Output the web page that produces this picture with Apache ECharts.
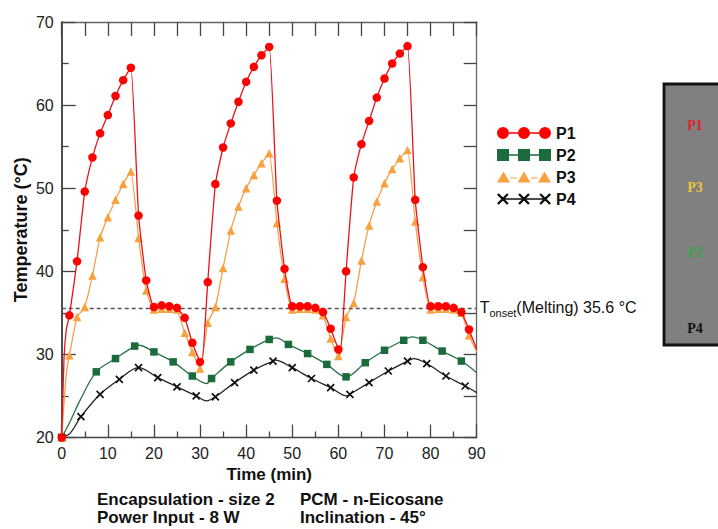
<!DOCTYPE html>
<html><head><meta charset="utf-8">
<script src="https://cdn.jsdelivr.net/npm/echarts@6/dist/echarts.min.js"></script>
<style>html,body{margin:0;padding:0;background:#fff}#c{width:718px;height:529px}</style>
</head><body><div id="c"></div>
<script>
// ---- data ----
const tFast = [0, 1.67, 3.33, 5, 6.67, 8.33, 10, 11.67, 13.33, 15, 16.67, 18.33, 20, 21.67, 23.33, 25, 26.67, 28.33, 30,
  31.67, 33.33, 35, 36.67, 38.33, 40, 41.67, 43.33, 45, 46.67, 48.33, 50, 51.67, 53.33, 55, 56.67, 58.33, 60,
  61.67, 63.33, 65, 66.67, 68.33, 70, 71.67, 73.33, 75, 76.67, 78.33, 80, 81.67, 83.33, 85, 86.67, 88.33];
const p1 = [20, 34.7, 41.2, 49.6, 53.7, 56.6, 58.8, 61.1, 63.0, 64.5, 46.7, 38.9, 35.7, 35.9, 35.8, 35.6, 34.4, 31.4, 29.1,
  38.7, 50.5, 54.9, 57.8, 60.4, 62.8, 64.6, 66.0, 67.0, 48.5, 40.3, 35.8, 35.8, 35.8, 35.6, 35.1, 33.1, 30.6,
  40.0, 51.3, 55.3, 58.1, 60.9, 63.2, 65.0, 66.2, 67.1, 48.6, 40.5, 35.8, 35.8, 35.8, 35.6, 35.1, 33.0];
const p3 = [20, 29.9, 34.5, 35.7, 39.5, 44.1, 46.5, 48.6, 50.5, 52.0, 44.0, 37.7, 35.4, 35.5, 35.5, 35.4, 32.6, 30.3, 28.3,
  33.8, 35.7, 40.4, 44.9, 47.8, 50.0, 51.6, 53.0, 54.2, 45.8, 39.1, 35.4, 35.5, 35.5, 35.4, 34.7, 31.9, 29.8,
  34.5, 36.2, 41.3, 45.5, 48.4, 50.6, 52.3, 53.6, 54.6, 46.0, 39.3, 35.4, 35.5, 35.5, 35.4, 35.0, 32.3];
const tP2 = [0, 7.5, 11.67, 15.83, 20, 24.17, 28.33, 32.5, 36.67, 40.83, 45, 49.17, 53.33, 57.5, 61.67, 65.83, 70, 74.17, 78.33, 82.5, 86.67];
const p2 = [20, 27.9, 29.5, 31.0, 30.3, 29.1, 27.4, 27.1, 29.1, 30.6, 31.8, 31.2, 30.1, 28.8, 27.3, 29.0, 30.5, 31.7, 31.7, 30.4, 29.2];
const tP4 = [0, 4.17, 8.33, 12.5, 16.67, 20.83, 25, 29.17, 33.33, 37.5, 41.67, 45.83, 50, 54.17, 58.33, 62.5, 66.67, 70.83, 75, 79.17, 83.33, 87.5];
const p4 = [20, 22.5, 25.2, 27.0, 28.4, 27.2, 26.1, 25.0, 24.9, 26.6, 28.1, 29.2, 28.4, 27.1, 26.0, 25.2, 26.6, 28.0, 29.2, 28.9, 27.4, 26.2];
// extra points (no markers drawn there)
const p1Curve = [[0.5, 29.5], [1.0, 33.0], [30.4, 28.8], [60.4, 30.0], [90, 30.6]];
const p3Curve = [[0.7, 25.7], [1.2, 28.5], [90, 30.3]];
const p2Curve = [[1.8, 21.9], [4.0, 24.5], [16.7, 31.1], [31.4, 26.5], [46.6, 32.0], [76.0, 32.1], [90, 27.8]];
const p4Curve = [[1.8, 20.5], [31.4, 24.4], [46.3, 29.3], [61.9, 25.0], [76.3, 29.5], [90, 25.4]];
const tOnset = 35.6;
const seriesNames = ['P1', 'P2', 'P3', 'P4'];
const boxLabels = ['P1', 'P3', 'P2', 'P4'];
const captionLines = [['Encapsulation - size 2', 'PCM - n-Eicosane'], ['Power Input - 8 W', 'Inclination - 45°']];

// ---- build ----
const FF = '"Liberation Sans", Arial, Helvetica, sans-serif';
function pts(ts, vs) { return ts.map((t, i) => [t, vs[i]]); }
function curve(ts, vs, extra) { return pts(ts, vs).concat(extra).sort((a, b) => a[0] - b[0]); }

const colors = { P1: '#ff0000', P2: '#1c6b3c', P3: '#f7a13f', P4: '#111111' };
const lineColors = { P1: '#e8121c', P2: '#27724b', P3: '#f5a04a', P4: '#222222' };

// legend icons (54 x 12 boxes)
function circ(cx) { return `M${cx - 6},6A6,6,0,1,1,${cx + 6},6A6,6,0,1,1,${cx - 6},6Z`; }
function bar(x1, x2) { return `M${x1},5.35L${x2},5.35L${x2},6.65L${x1},6.65Z`; }
const iconP1 = 'path://' + circ(6) + circ(27) + circ(48) + bar(12, 21) + bar(33, 42);
function sq(x) { return `M${x},0L${x + 12},0L${x + 12},12L${x},12Z`; }
const iconP2 = 'path://' + sq(0) + sq(21) + sq(42) + bar(12, 21) + bar(33, 42);
function tri(cx) { return `M${cx},0L${cx + 6.5},11L${cx - 6.5},11Z`; }
const iconP3 = 'path://' + tri(6.5) + tri(27) + tri(47.5) + 'M13,5.9L20.5,5.9L20.5,7.1L13,7.1Z' + 'M33.5,5.9L41,5.9L41,7.1L33.5,7.1Z';
function xs(cx) {
  const a = `M${cx - 4.15},0.15L${cx + 5.85},10.15L${cx + 4.15},11.85L${cx - 5.85},1.85Z`;
  const b = `M${cx + 4.15},0.15L${cx + 5.85},1.85L${cx - 4.15},11.85L${cx - 5.85},10.15Z`;
  return a + b;
}
const iconP4 = 'path://' + xs(5.85) + xs(27) + xs(48.15) + bar(7, 26) + bar(28, 47);
const icons = { P1: iconP1, P2: iconP2, P3: iconP3, P4: iconP4 };

const xMark = 'path://M0,0L10,10M10,0L0,10';

function lineSeries(name, data, smooth, z, extra) {
  return Object.assign({
    name, type: 'line', data, smooth, showSymbol: false, symbol: 'none', z,
    itemStyle: { color: colors[name] },
    lineStyle: { color: lineColors[name], width: 1.3 },
    emphasis: { disabled: true }, silent: true
  }, extra || {});
}
function markSeries(name, data, symbol, size, z, itemStyle) {
  return {
    name, type: 'scatter', data, symbol, symbolSize: size, z,
    itemStyle: Object.assign({ color: colors[name], opacity: 1 }, itemStyle || {}),
    emphasis: { disabled: true }, silent: true
  };
}

const series = [
  lineSeries('P2', curve(tP2, p2, p2Curve), 0.35, 2),
  markSeries('P2', pts(tP2, p2), 'rect', 7.5, 3),
  lineSeries('P4', curve(tP4, p4, p4Curve), 0.35, 2),
  markSeries('P4', pts(tP4, p4), xMark, 7, 3, { borderColor: '#111', borderWidth: 1.7 }),
  lineSeries('P3', curve(tFast, p3, p3Curve), 0.15, 4),
  markSeries('P3', pts(tFast, p3), 'triangle', 8.5, 5),
  lineSeries('P1', curve(tFast, p1, p1Curve), 0.15, 6, {
    markLine: {
      silent: true, symbol: 'none', animation: false,
      lineStyle: { color: '#555', type: [4, 3], width: 1.3 },
      data: [{ yAxis: tOnset }],
      label: {
        show: true, position: 'end', distance: 3,
        formatter: '{a|T}{b|onset}{c|(Melting) ' + tOnset + ' °C}',
        rich: {
          a: { fontFamily: FF, fontSize: 16, color: '#111', lineHeight: 22, verticalAlign: 'middle' },
          b: { fontFamily: FF, fontSize: 11, color: '#111', lineHeight: 22, verticalAlign: 'bottom' },
          c: { fontFamily: FF, fontSize: 16, color: '#111', lineHeight: 22, verticalAlign: 'middle' }
        }
      }
    }
  }),
  markSeries('P1', pts(tFast, p1), 'circle', 8.5, 7)
];

const axisCol = '#444';
const option = {
  animation: false,
  backgroundColor: '#fff',
  grid: { left: 61.7, top: 22, right: 241.3, bottom: 91.5, containLabel: false },
  xAxis: [
    {
      type: 'value', min: 0, max: 90, interval: 10, position: 'bottom',
      axisLine: { show: true, onZero: false, lineStyle: { color: axisCol, width: 1.3 } },
      axisTick: { show: true, inside: true, length: 13, lineStyle: { color: axisCol, width: 1.3 } },
      minorTick: { show: true, splitNumber: 2, length: 6, lineStyle: { color: axisCol, width: 1.3 } },
      splitLine: { show: false },
      axisLabel: { margin: 8, fontSize: 16, color: '#222', fontFamily: FF },
      name: 'Time (min)', nameLocation: 'middle', nameGap: 27,
      nameTextStyle: { fontSize: 17, fontWeight: 'bold', color: '#111', fontFamily: FF }
    },
    {
      type: 'value', min: 0, max: 90, interval: 5, position: 'top',
      axisLine: { show: true, onZero: false, lineStyle: { color: '#666', width: 1.3 } },
      axisTick: { show: true, inside: true, length: 14, lineStyle: { color: '#444', width: 1.3 } },
      axisLabel: { show: false }, splitLine: { show: false }
    }
  ],
  yAxis: [
    {
      type: 'value', min: 20, max: 70, interval: 10, position: 'left',
      axisLine: { show: true, onZero: false, lineStyle: { color: '#222', width: 1.6 } },
      axisTick: { show: true, inside: true, length: 14, lineStyle: { color: axisCol, width: 1.3 } },
      minorTick: { show: true, splitNumber: 2, length: 7, lineStyle: { color: axisCol, width: 1.3 } },
      splitLine: { show: false },
      axisLabel: { margin: 8, fontSize: 16, color: '#222', fontFamily: FF },
      name: 'Temperature (°C)', nameLocation: 'middle', nameGap: 32, nameRotate: 90, nameMoveOverlap: false,
      nameTextStyle: { fontSize: 18, fontWeight: 'bold', color: '#111', fontFamily: FF }
    },
    {
      type: 'value', min: 20, max: 70, interval: 5, position: 'right',
      axisLine: { show: true, onZero: false, lineStyle: { color: '#666', width: 1.3 } },
      axisTick: { show: true, inside: true, length: 13, lineStyle: { color: '#444', width: 1.3 } },
      axisLabel: { show: false }, splitLine: { show: false }
    }
  ],
  legend: {
    orient: 'vertical', left: 492, top: 120, itemWidth: 54, itemHeight: 12, itemGap: 6,
    selectedMode: false,
    data: seriesNames.map(n => ({ name: n, icon: icons[n] })),
    itemStyle: { borderWidth: 0 },
    textStyle: { fontFamily: FF, fontSize: 16, fontWeight: 'bold', color: '#111', lineHeight: 16, padding: [0, 0, 0, 0] }
  },
  graphic: [
    { type: 'rect', shape: { x: 664, y: 84, width: 70, height: 261 }, style: { fill: '#808080', stroke: '#111', lineWidth: 2.8 }, silent: true },
    ...boxLabels.map((t, i) => ({
      type: 'text', x: 695, y: [125, 187, 252, 328][i], silent: true,
      style: { text: t, fill: ['#e0232b', '#ecc43a', '#3aa64c', '#111'][i], font: 'bold 14px "Liberation Serif", "DejaVu Serif", serif', textAlign: 'center', textVerticalAlign: 'middle', align: 'center', verticalAlign: 'middle' }
    })),
    ...captionLines.flatMap((row, r) => row.map((t, c) => ({
      type: 'text', x: [97, 300][c], y: [499, 517][r], silent: true,
      style: { text: t, fill: '#111', font: 'bold 17px ' + FF, textVerticalAlign: 'middle', verticalAlign: 'middle' }
    })))
  ],
  series
};

const chart = echarts.init(document.getElementById('c'), null, { renderer: 'svg', width: 718, height: 529 });
chart.setOption(option);
</script>
</body></html>
